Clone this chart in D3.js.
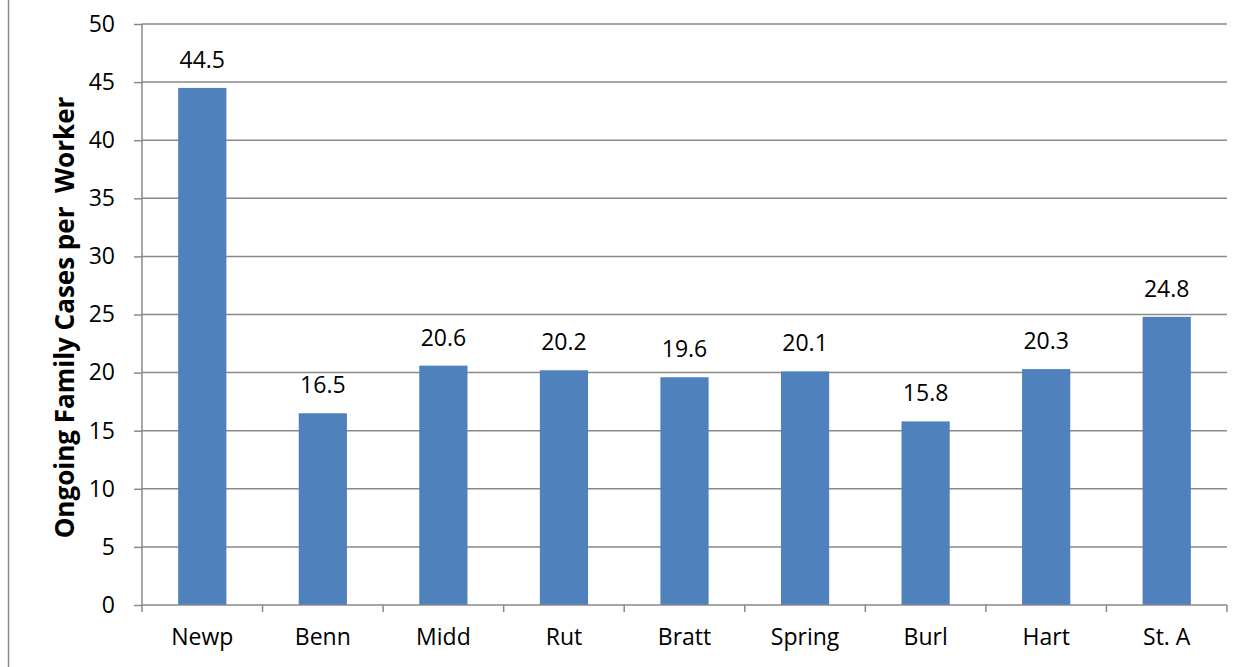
<!DOCTYPE html>
<html><head><meta charset="utf-8">
<script src="https://cdn.jsdelivr.net/npm/d3@7"></script>
<style>body{margin:0;background:#fff}svg{display:block}</style>
</head><body>
<script>
const categories = ["Newp","Benn","Midd","Rut","Bratt","Spring","Burl","Hart","St. A"];
const values = [44.5,16.5,20.6,20.2,19.6,20.1,15.8,20.3,24.8];
const yTicks = [0,5,10,15,20,25,30,35,40,45,50];
const yTitle = "Ongoing Family Cases per\u00a0 Worker";

(function () {
const W = 1252, H = 667;
const mLeft = 142, mRight = 1227, mTop = 24, mBottom = 605;
const font = "'Open Sans', 'Liberation Sans', sans-serif";
const grid = "#898989";
const fs = 23;

const svg = d3.select("body").append("svg").attr("width", W).attr("height", H);
svg.append("rect").attr("width", W).attr("height", H).attr("fill", "#fff");
svg.append("line").attr("x1", 8.5).attr("x2", 8.5).attr("y1", 0).attr("y2", H)
  .attr("stroke", "#8a8a8a").attr("stroke-width", 1.5);

const x = d3.scaleBand().domain(categories).range([mLeft, mRight]).paddingInner(0.6).paddingOuter(0.3);
const xb = d3.scaleBand().domain(categories).range([mLeft, mRight]);
const y = d3.scaleLinear().domain([0, 50]).range([mBottom, mTop]);

svg.append("g").selectAll("line").data(yTicks.filter(d => d > 0)).join("line")
  .attr("x1", mLeft).attr("x2", mRight).attr("y1", d => y(d)).attr("y2", d => y(d))
  .attr("stroke", grid).attr("stroke-width", 1.5);

const ya = svg.append("g").attr("transform", `translate(${mLeft},0)`)
  .call(d3.axisLeft(y).tickValues(yTicks).tickSize(8).tickPadding(19));
ya.select(".domain").attr("stroke", grid).attr("stroke-width", 1.5).attr("d", `M0,${mTop}V${mBottom}`);
ya.selectAll(".tick line").attr("stroke", grid).attr("stroke-width", 1.5);
ya.selectAll(".tick text").attr("font-family", font).attr("font-size", fs).attr("fill", "#000");

svg.append("g").selectAll("rect").data(values).join("rect")
  .attr("x", (d, i) => x(categories[i])).attr("width", x.bandwidth())
  .attr("y", d => y(d)).attr("height", d => y(0) - y(d))
  .attr("fill", "#4F81BD");

const xa = svg.append("g").attr("transform", `translate(0,${mBottom})`)
  .call(d3.axisBottom(xb).tickSize(0).tickPadding(24));
xa.select(".domain").attr("stroke", grid).attr("stroke-width", 1.5).attr("d", `M${mLeft},0H${mRight}`);
xa.selectAll(".tick text").attr("font-family", font).attr("font-size", fs).attr("fill", "#000");
const bounds = categories.map(c => xb(c)).concat([mRight]);
xa.append("g").selectAll("line").data(bounds).join("line")
  .attr("x1", d => d).attr("x2", d => d).attr("y1", 0).attr("y2", 7)
  .attr("stroke", grid).attr("stroke-width", 1.5);

svg.append("g").selectAll("text").data(values).join("text")
  .attr("x", (d, i) => x(categories[i]) + x.bandwidth() / 2)
  .attr("y", d => y(d) - 20)
  .attr("text-anchor", "middle").attr("font-family", font).attr("font-size", fs)
  .text(d => d.toFixed(1));

svg.append("text").attr("transform", `translate(74,${(mTop + mBottom) / 2 + 3}) rotate(-90)`)
  .attr("text-anchor", "middle").attr("font-family", font).attr("font-size", 26)
  .attr("font-weight", "bold").text(yTitle);
})();
</script>
</body></html>
